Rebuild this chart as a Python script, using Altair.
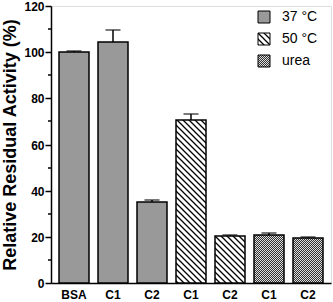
import altair as alt
import pandas as pd
import jinja2

# ---- data ----
bar_ids = ["BSA|1", "C1|2", "C2|3", "C1|4", "C2|5", "C1|6", "C2|7"]
conditions = ["37 °C", "37 °C", "37 °C", "50 °C", "50 °C", "urea", "urea"]
activity = [100.0, 104.3, 35.3, 70.6, 20.4, 20.9, 19.5]
upper = [100.6, 109.6, 36.0, 73.1, 21.0, 21.5, 20.0]
minor_ticks = [10, 30, 50, 70, 90, 110]

cond_domain = ["37 °C", "50 °C", "urea"]
cond_fill = ["#999999", "url(#hatch)", "url(#dots)"]

df = pd.DataFrame({"id": bar_ids, "cond": conditions, "value": activity, "upper": upper})
minor_df = pd.DataFrame({"v": minor_ticks})

FONT = "Liberation Sans, Arial, sans-serif"

xscale = alt.Scale(paddingInner=0.23, paddingOuter=0.15, round=True)
xenc = alt.X(
    "id:N",
    sort=bar_ids,
    scale=xscale,
    axis=alt.Axis(
        title=None, labelExpr="split(datum.label, '|')[0]", labelAngle=0,
        ticks=False, tickSize=0, labelPadding=6, labelFontSize=12,
        labelFontWeight="bold", labelFont=FONT, labelColor="black",
        domainColor="black", domainWidth=1.5,
    ),
)
yscale = alt.Scale(domain=[0, 120], nice=False, round=True)

bars = alt.Chart(df).mark_bar(stroke="black", strokeWidth=1.5, fillOpacity=1).encode(
    x=xenc,
    y=alt.Y(
        "value:Q", scale=yscale,
        axis=alt.Axis(
            title="Relative Residual Activity (%)", values=[0, 20, 40, 60, 80, 100, 120],
            grid=False, tickSize=6, tickWidth=1.5, tickColor="black",
            domainColor="black", domainWidth=1.5, labelPadding=1,
            labelFontSize=12, labelFontWeight="bold", labelFont=FONT, labelColor="black",
            titleFontSize=18, titleFontWeight="bold", titleFont=FONT, titleColor="black",
            titlePadding=4,
        ),
    ),
    fill=alt.Fill(
        "cond:N",
        scale=alt.Scale(domain=cond_domain, range=cond_fill),
        legend=alt.Legend(
            title=None, orient="none", legendX=206, legendY=4, padding=0,
            symbolType="square", symbolSize=144, symbolStrokeColor="black",
            symbolStrokeWidth=1, symbolOpacity=1, labelFontSize=14, labelFont=FONT,
            labelColor="black", labelOffset=11, rowPadding=6,
        ),
    ),
)

stems = alt.Chart(df).mark_rule(color="black", strokeWidth=1.5).encode(
    x=alt.X("id:N", sort=bar_ids), y=alt.Y("value:Q", scale=yscale), y2="upper:Q"
)
caps = alt.Chart(df).mark_tick(color="black", thickness=1.5, size=15).encode(
    x=alt.X("id:N", sort=bar_ids), y=alt.Y("upper:Q", scale=yscale)
)
minor = alt.Chart(minor_df).mark_rule(color="black", strokeWidth=1.5).encode(
    y=alt.Y("v:Q", scale=yscale), x=alt.value(-3), x2=alt.value(0)
)

chart = (
    alt.layer(bars, stems, caps, minor)
    .properties(width=280, height=277, padding={"left": 51, "top": 6, "right": 2, "bottom": 19},
                autosize=alt.AutoSizeParams(type="none"))
    .configure_view(stroke="black", strokeWidth=1.5)
    .configure(background="white")
)

TEMPLATE = jinja2.Template("""<!DOCTYPE html>
<html>
<head>
  <style>
    body { margin: 0; }
    #{{ output_div }}.vega-embed { width: 100%; display: flex; }
  </style>
  <script type="text/javascript" src="{{ base_url }}/vega@{{ vega_version }}"></script>
  <script type="text/javascript" src="{{ base_url }}/vega-lite@{{ vegalite_version }}"></script>
  <script type="text/javascript" src="{{ base_url }}/vega-embed@{{ vegaembed_version }}"></script>
</head>
<body>
<svg width="0" height="0" style="position:absolute">
  <defs>
    <pattern id="hatch" patternUnits="userSpaceOnUse" width="6" height="6">
      <rect width="6" height="6" fill="white"/>
      <path d="M-1,5 l2,2 M0,0 l6,6 M5,-1 l2,2" stroke="black" stroke-width="1.3"/>
    </pattern>
    <pattern id="dots" patternUnits="userSpaceOnUse" width="4" height="4">
      <rect width="4" height="4" fill="#dedede"/>
      <path d="M0,0h1v1h-1z M2,0h1v1h-1z M1,1h1v1h-1z M3,1h1v1h-1z M0,2h1v1h-1z M2,2h1v1h-1z M1,3h1v1h-1z M3,3h1v1h-1z" fill="#333333"/>
    </pattern>
  </defs>
</svg>
<div id="{{ output_div }}"></div>
<script>
  (function(vegaEmbed) {
    var spec = {{ spec }};
    var embedOpt = {{ embed_options }};
    function showError(el, error){
      el.innerHTML = ('<div style="color:red;"><p>JavaScript Error: ' + error.message + '</p></div>');
      throw error;
    }
    const el = document.getElementById('{{ output_div }}');
    vegaEmbed("#{{ output_div }}", spec, embedOpt).catch(error => showError(el, error));
  })(vegaEmbed);
</script>
</body>
</html>""")

chart.save("out.html", embed_options={"renderer": "svg", "actions": False}, template=TEMPLATE)
